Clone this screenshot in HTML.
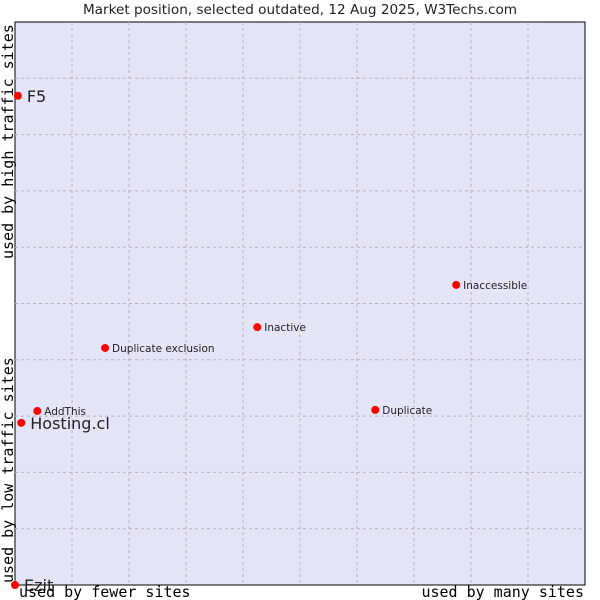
<!DOCTYPE html>
<html><head><meta charset="utf-8"><style>
body{margin:0;background:#fff;}
svg{display:block;font-family:"DejaVu Sans","Liberation Sans",sans-serif;}
</style></head><body>
<svg id="c" width="600" height="600" xmlns="http://www.w3.org/2000/svg">
<text x="300" y="14" text-anchor="middle" font-size="13.6" fill="#222">Market position, selected outdated, 12 Aug 2025, W3Techs.com</text>
<rect x="15" y="22" width="570" height="563" fill="#e4e6f8" stroke="#000" stroke-width="1"/>
<g id="grid"></g>
<g id="pts"></g>
<text x="19" y="597" font-family="DejaVu Sans Mono,Liberation Mono,monospace" font-size="15" fill="#000">used by fewer sites</text>
<text x="584" y="597" text-anchor="end" font-family="DejaVu Sans Mono,Liberation Mono,monospace" font-size="15" fill="#000">used by many sites</text>
<text transform="translate(13,259) rotate(-90)" font-family="DejaVu Sans Mono,Liberation Mono,monospace" font-size="15" fill="#000">used by high traffic sites</text>
<text transform="translate(13,583) rotate(-90)" font-family="DejaVu Sans Mono,Liberation Mono,monospace" font-size="15" fill="#000">used by low traffic sites</text>
</svg>
<script>
const names = ["F5","Hosting.cl","Ezit","AddThis","Duplicate exclusion","Inactive","Inaccessible","Duplicate"];
const xValues = [0.5,1.1,0,3.9,15.8,42.5,77.4,63.2];
const yValues = [86.9,28.8,0,30.9,42.1,45.8,53.3,31.1];
const bigLabel = [true,true,true,false,false,false,false,false];
const X0=15,X1=585,Y0=585,Y1=22;
function sx(v){return X0+(X1-X0)*v/100;}
function sy(v){return Y0-(Y0-Y1)*v/100;}
const NS="http://www.w3.org/2000/svg";
const grid=document.getElementById('grid');
for(let i=1;i<10;i++){
  const v=document.createElementNS(NS,'line');
  v.setAttribute('x1',sx(i*10));v.setAttribute('x2',sx(i*10));v.setAttribute('y1',Y1);v.setAttribute('y2',Y0);
  v.setAttribute('stroke','#b4b4b4');v.setAttribute('stroke-dasharray','3,3');
  
  
  grid.appendChild(v);
  const h=document.createElementNS(NS,'line');
  h.setAttribute('y1',sy(i*10));h.setAttribute('y2',sy(i*10));h.setAttribute('x1',X0);h.setAttribute('x2',X1);
  h.setAttribute('stroke','#b4b4b4');h.setAttribute('stroke-dasharray','3,3');
  
  
  grid.appendChild(h);
}
const pts=document.getElementById('pts');
names.forEach((n,i)=>{
  const cx=sx(xValues[i]),cy=sy(yValues[i]);
  const c=document.createElementNS(NS,'circle');
  c.setAttribute('cx',cx);c.setAttribute('cy',cy);c.setAttribute('r',4);c.setAttribute('fill','#ff0000');
  
  
  pts.appendChild(c);
  const t=document.createElementNS(NS,'text');
  t.setAttribute('x',cx+(bigLabel[i]?9:7));t.setAttribute('y',cy+(bigLabel[i]?6:4));
  t.setAttribute('font-size',bigLabel[i]?16:10.5);t.setAttribute('fill','#222');
  t.textContent=n;
  
  
  pts.appendChild(t);
});
</script>
</body></html>
